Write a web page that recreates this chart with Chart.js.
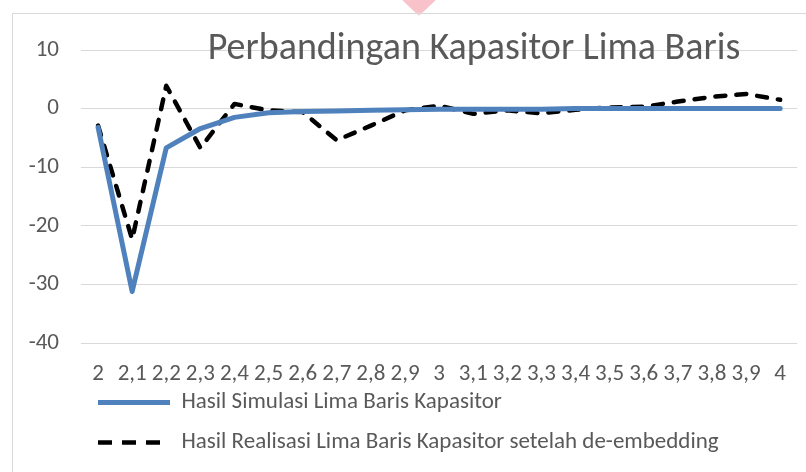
<!DOCTYPE html>
<html>
<head>
<meta charset="utf-8">
<script src="https://cdn.jsdelivr.net/npm/chart.js@4.4.1/dist/chart.umd.min.js"></script>
<style>
  body { margin: 0; background: #fff; }
  #wrap { position: relative; width: 806px; height: 472px; overflow: hidden; }
  #mark { position: absolute; left: 398px; top: -4px; width: 42px; height: 20px;
          background: #f7b3bd; clip-path: polygon(0 0, 100% 0, 50% 100%); filter: blur(2px); opacity: 0.8; }
  #frame { position: absolute; left: 12px; top: 13px; width: 820px; height: 480px;
           border: 1px solid #d9d9d9; box-sizing: border-box; }
  canvas { position: absolute; left: 0; top: 0; }
</style>
</head>
<body>
<div id="wrap">
  <div id="mark"></div>
  <div id="frame"></div>
  <canvas id="chart" width="806" height="472"></canvas>
</div>
<script>
// frequency labels (GHz), as written on the axis
const categories = ['2', '2,1', '2,2', '2,3', '2,4', '2,5', '2,6', '2,7', '2,8', '2,9', '3',
  '3,1', '3,2', '3,3', '3,4', '3,5', '3,6', '3,7', '3,8', '3,9', '4'];

// Hasil Simulasi Lima Baris Kapasitor
const simulasi = [-3.2, -31.2, -6.7, -3.4, -1.5, -0.7, -0.5, -0.4, -0.3, -0.2, -0.1,
  -0.1, -0.1, -0.1, 0, 0, 0, 0, 0, 0, 0];

// Hasil Realisasi Lima Baris Kapasitor setelah de-embedding
const realisasi = [-2.9, -22.3, 3.9, -6.7, 0.8, -0.3, -0.6, -5.4, -2.9, -0.3, 0.5,
  -0.9, -0.3, -0.8, -0.2, 0.2, 0.3, 1.2, 2.0, 2.5, 1.5];

const yTicks = [10, 0, -10, -20, -30, -40];

const titleText = 'Perbandingan Kapasitor Lima Baris';
const textColor = '#595959';
const fontFamily = 'Carlito, Lato, sans-serif';

// Excel style overlay title, drawn on top of the plot
const overlayTitle = {
  id: 'overlayTitle',
  afterDraw(chart) {
    const ctx = chart.ctx;
    ctx.save();
    ctx.font = '38px ' + fontFamily;
    ctx.fillStyle = textColor;
    ctx.textAlign = 'center';
    ctx.textBaseline = 'middle';
    ctx.fillText(titleText, 474, 49);
    ctx.restore();
  }
};

// Excel puts the legend close under the axis labels, pull it up a bit
const legendNudge = {
  id: 'legendNudge',
  afterLayout(chart) {
    chart.legend.top -= 12;
    chart.legend.bottom -= 12;
  }
};

const chartCanvas = document.getElementById('chart');

new Chart(chartCanvas, {
  type: 'line',
  data: {
    labels: categories,
    datasets: [
      {
        label: 'Hasil Simulasi Lima Baris Kapasitor',
        data: simulasi,
        borderColor: '#4f81bd',
        backgroundColor: '#4f81bd',
        borderWidth: 5,
        borderCapStyle: 'round',
        borderJoinStyle: 'round',
        pointRadius: 0,
        tension: 0
      },
      {
        label: 'Hasil Realisasi Lima Baris Kapasitor setelah de-embedding',
        data: realisasi,
        borderColor: '#000000',
        backgroundColor: '#000000',
        borderWidth: 4.5,
        borderDash: [10, 11],
        borderCapStyle: 'round',
        borderJoinStyle: 'round',
        pointRadius: 0,
        tension: 0
      }
    ]
  },
  options: {
    responsive: false,
    animation: false,
    layout: { padding: { top: 50, right: 0, bottom: -4, left: 0 } },
    plugins: {
      title: { display: false },
      tooltip: { enabled: false },
      legend: {
        position: 'bottom',
        align: 'start',
        fullSize: false,
        labels: {
          usePointStyle: true,
          pointStyle: 'line',
          pointStyleWidth: 72,
          padding: 17,
          color: textColor,
          font: { family: fontFamily, size: 23 },
          generateLabels(chart) {
            const items = Chart.defaults.plugins.legend.labels.generateLabels(chart);
            items.forEach(item => {
              if (item.datasetIndex === 1) item.lineDash = [14, 10];
            });
            return items;
          }
        }
      }
    },
    scales: {
      x: {
        offset: true,
        afterFit(scale) { scale.height = 43; },
        grid: { display: false, drawTicks: false },
        border: { display: false },
        ticks: {
          color: textColor,
          font: { family: fontFamily, size: 23, lineHeight: 1 },
          autoSkip: false,
          maxRotation: 0,
          padding: 20
        }
      },
      y: {
        min: -40,
        max: 10,
        afterFit(scale) { scale.width = 81; },
        afterBuildTicks(scale) { scale.ticks = yTicks.map(v => ({ value: v })); },
        grid: { color: '#d9d9d9', lineWidth: 1, drawTicks: false },
        border: { display: false },
        ticks: {
          color: textColor,
          font: { family: fontFamily, size: 23 },
          padding: 22
        }
      }
    }
  },
  plugins: [overlayTitle, legendNudge]
});
</script>
</body>
</html>
